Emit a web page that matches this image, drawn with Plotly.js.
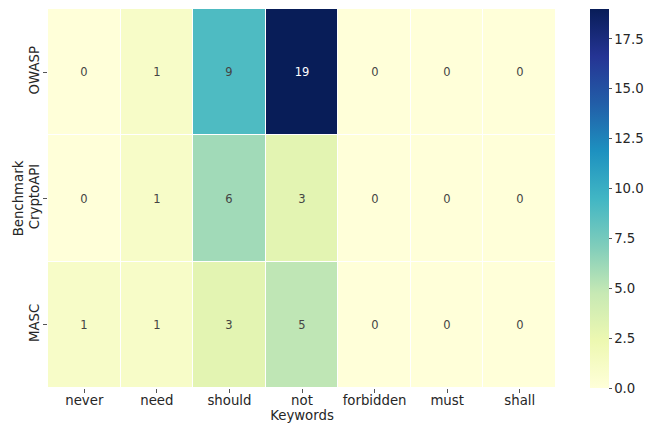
<!DOCTYPE html>
<html><head><meta charset="utf-8">
<script src="https://cdn.plot.ly/plotly-3.0.1.min.js"></script>
<style>html,body{margin:0;padding:0;background:#fff}</style>
</head><body>
<div id="chart" style="width:653px;height:424px"></div>
<script>
const keywords = ['never','need','should','not','forbidden','must','shall'];
const benchmarks = ['OWASP','CryptoAPI','MASC'];
const owasp = [0,1,9,19,0,0,0];
const cryptoapi = [0,1,6,3,0,0,0];
const masc = [1,1,3,5,0,0,0];
const colorbarTicks = [0,2.5,5,7.5,10,12.5,15,17.5];

const z = [owasp, cryptoapi, masc];
const ylgnbu = [
  [0,'#ffffd9'],[0.125,'#edf8b1'],[0.25,'#c7e9b4'],[0.375,'#7fcdbb'],
  [0.5,'#41b6c4'],[0.625,'#1d91c0'],[0.75,'#225ea8'],[0.875,'#253494'],[1,'#081d58']
];
const font = {family:'DejaVu Sans', color:'#262626'};
const trace = {
  type:'heatmap', x:keywords, y:benchmarks, z:z,
  zmin:0, zmax:19, colorscale:ylgnbu, xgap:1, ygap:1,
  texttemplate:'%{z}', textfont:{family:'DejaVu Sans', size:11.5},
  hoverinfo:'skip',
  colorbar:{
    x:0.9033, xanchor:'left', xpad:0, ypad:0, thickness:19, len:1, lenmode:'fraction', y:0.5, yanchor:'middle',
    outlinewidth:0, tickvals:colorbarTicks, ticktext:colorbarTicks.map(v=>v.toFixed(1)),
    ticks:'outside', ticklen:3, tickcolor:'#555', tickfont:{family:'DejaVu Sans', size:13.3, color:'#262626'}
  }
};
const layout = {
  width:653, height:424,
  margin:{l:48, r:5, t:9, b:36, autoexpand:false},
  paper_bgcolor:'#fff', plot_bgcolor:'#fff',
  font:font,
  xaxis:{domain:[0,0.8467], title:{text:'Keywords', font:{size:13.3}, standoff:1}, ticks:'outside', ticklen:4, tickcolor:'#555',
    ticklabelstandoff:-4, tickfont:{size:13.3}, showgrid:false, zeroline:false, showline:false},
  yaxis:{title:{text:'Benchmark', font:{size:13.3}, standoff:0}, autorange:'reversed', ticks:'outside', ticklen:4, tickcolor:'#555',
    ticklabelstandoff:-1, tickangle:-90, tickfont:{size:13.3}, showgrid:false, zeroline:false, showline:false}
};
Plotly.newPlot('chart',[trace],layout,{displayModeBar:false, staticPlot:true});
</script>
</body></html>
